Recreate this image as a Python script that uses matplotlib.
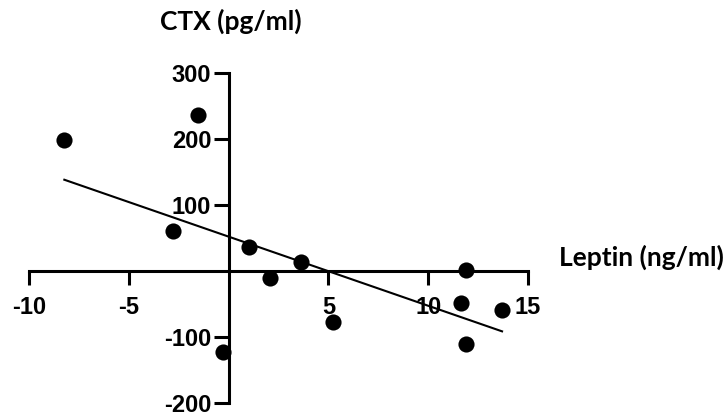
import numpy as np
import matplotlib
matplotlib.use("Agg")
import matplotlib.pyplot as plt

# Leptin change vs CTX change, one point per subject
leptin = [-8.23, -1.52, -2.77, 1.02, -0.3, 2.07, 3.63, 5.25, 11.9, 11.65, 11.9, 13.7]
ctx = [198, 237, 61, 37, -123, -11, 14, -77, 1, -48, -111, -59]

x_ticks = [-10, -5, 5, 10, 15]
y_ticks = [-200, -100, 100, 200, 300]

fig = plt.figure(figsize=(7.27, 4.16), dpi=100)
ax = fig.add_axes([29 / 727, 1 - 403 / 416, (528 - 29) / 727, (403 - 73) / 416])

ax.scatter(leptin, ctx, s=135, color="black", zorder=3, clip_on=False, linewidths=0)

# least squares fit over the range of the data
slope, icpt = np.polyfit(leptin, ctx, 1)
xs = np.array([min(leptin), max(leptin)])
ax.plot(xs, slope * xs + icpt, color="black", lw=1.5, zorder=2)

ax.set_xlim(-10, 15)
ax.set_ylim(-200, 300)

for side in ("top", "right"):
    ax.spines[side].set_visible(False)
for side in ("left", "bottom"):
    ax.spines[side].set_position(("data", 0))
    ax.spines[side].set_linewidth(2.2)

tick_font = dict(family="Liberation Sans", weight="bold", size=17)
ax.set_xticks(x_ticks)
ax.set_xticklabels([str(t) for t in x_ticks], fontdict=tick_font)
ax.set_yticks(y_ticks)
ax.set_yticklabels([str(t) for t in y_ticks], fontdict=tick_font)
ax.tick_params(axis="x", direction="out", length=10, width=2.2, pad=8)
ax.tick_params(axis="y", direction="out", length=10.5, width=2.2, pad=2)

title_font = dict(family="Lato", weight="bold", size=19)
fig.text(641 / 727, 1 - 266 / 416, "Leptin (ng/ml)", ha="center", va="baseline", **title_font)
fig.text(231 / 727, 1 - 30 / 416, "CTX (pg/ml)", ha="center", va="baseline", **title_font)

fig.savefig("out.png", dpi=100)
